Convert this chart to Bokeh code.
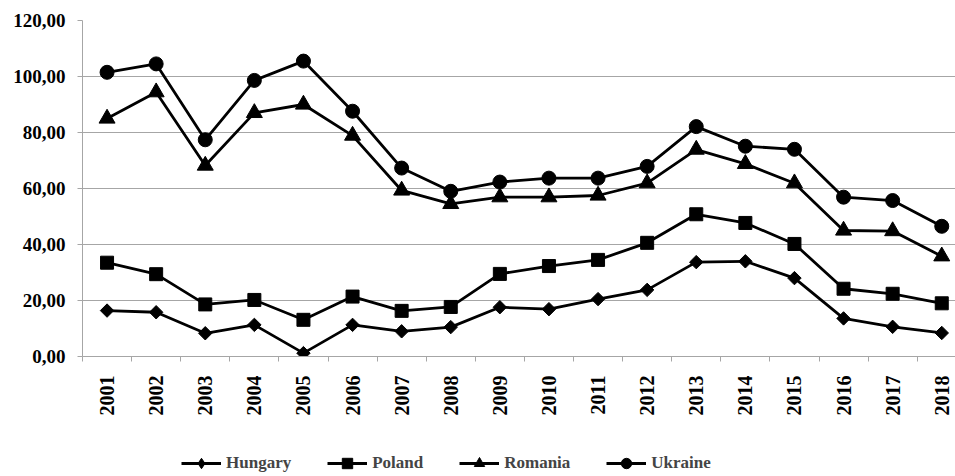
import math
from bokeh.plotting import figure
from bokeh.layouts import column
from bokeh.models import Range1d, FixedTicker, Legend, LegendItem
from bokeh.embed import file_html
from bokeh.resources import INLINE

years = list(range(2001, 2019))
hungary = [16.4, 15.8, 8.3, 11.3, 1.2, 11.3, 9.0, 10.5, 17.6, 16.9, 20.5, 23.8, 33.7, 34.0, 28.0, 13.6, 10.6, 8.4]
poland = [33.5, 29.4, 18.6, 20.2, 13.1, 21.4, 16.3, 17.7, 29.5, 32.3, 34.5, 40.6, 50.8, 47.7, 40.2, 24.2, 22.4, 19.0]
romania = [85.0, 94.4, 68.2, 87.0, 90.0, 78.9, 59.3, 54.5, 56.9, 56.9, 57.5, 61.9, 73.9, 68.8, 61.9, 45.0, 44.8, 35.8]
ukraine = [101.5, 104.5, 77.4, 98.6, 105.5, 87.6, 67.3, 59.0, 62.3, 63.7, 63.7, 67.9, 82.1, 75.1, 74.0, 56.9, 55.7, 46.5]
y_ticks = [0, 20, 40, 60, 80, 100, 120]
y_labels = ["0,00", "20,00", "40,00", "60,00", "80,00", "100,00", "120,00"]

FONT = "Liberation Serif"
GRID = "#a6a6a6"

p = figure(width=955, height=450, output_backend="svg", toolbar_location=None,
           x_range=Range1d(2000.5, 2018.28), y_range=Range1d(0, 120),
           min_border_left=82, min_border_right=0, min_border_top=20, min_border_bottom=94)
p.outline_line_color = None
p.background_fill_color = "white"

# x axis
p.xaxis.ticker = FixedTicker(ticks=years, minor_ticks=[y - 0.5 for y in years] + [2018.5])
p.xaxis.major_tick_out = 0
p.xaxis.major_tick_in = 0
p.xaxis.minor_tick_out = 5
p.xaxis.minor_tick_in = 0
p.xaxis.minor_tick_line_color = GRID
p.xaxis.axis_line_color = GRID
p.xaxis.major_label_orientation = math.pi / 2
p.xaxis.major_label_standoff = 14
p.xaxis.major_label_text_font = FONT
p.xaxis.major_label_text_font_style = "bold"
p.xaxis.major_label_text_font_size = "20px"
p.xaxis.major_label_text_color = "black"
p.xgrid.visible = False

# y axis
p.yaxis.ticker = FixedTicker(ticks=y_ticks, minor_ticks=[])
p.yaxis.major_label_overrides = {t: l for t, l in zip(y_ticks, y_labels)}
p.yaxis.major_tick_out = 5
p.yaxis.major_tick_in = 0
p.yaxis.major_tick_line_color = GRID
p.yaxis.axis_line_color = GRID
p.yaxis.major_label_standoff = 12
p.yaxis.major_label_text_font = FONT
p.yaxis.major_label_text_font_style = "bold"
p.yaxis.major_label_text_font_size = "19px"
p.yaxis.major_label_text_color = "black"
p.ygrid.ticker = FixedTicker(ticks=y_ticks)
p.ygrid.grid_line_color = GRID
p.ygrid.grid_line_width = 1

series = [
    ("Hungary", hungary, "square", 9.5, 0.785398, "diamond"),
    ("Poland", poland, "square", 13, 0.0, "square"),
    ("Romania", romania, "triangle", 16, 0.0, "triangle"),
    ("Ukraine", ukraine, "circle", 14, 0.0, "circle"),
]

# legend strip below the chart
lg = figure(width=955, height=26, output_backend="svg", toolbar_location=None,
            x_range=Range1d(0, 1), y_range=Range1d(0, 1),
            x_axis_type=None, y_axis_type=None,
            min_border_left=0, min_border_right=0, min_border_top=0, min_border_bottom=0)
lg.outline_line_color = None
lg.grid.visible = False

items = []
for name, vals, marker, size, ang, lmarker in series:
    p.line(years, vals, line_color="black", line_width=2.8)
    p.scatter(years, vals, marker=marker, size=size, angle=ang,
              fill_color="black", line_color="black")
    # same series in the legend strip (out of its visible range)
    lr = lg.line(years, vals, line_color="black", line_width=2.8)
    sr = lg.scatter(years, vals, marker=lmarker, size=size,
                    fill_color="black", line_color="black")
    items.append(LegendItem(label=name, renderers=[lr, sr]))

legend = Legend(items=items, orientation="horizontal", location=(99, 0),
                label_text_font=FONT, label_text_font_style="bold",
                label_text_font_size="17px", glyph_width=40, glyph_height=26,
                label_standoff=5, spacing=36, padding=0, margin=0,
                border_line_color=None, background_fill_alpha=0)
lg.add_layout(legend)

layout = column(p, lg, spacing=0)
open("out.html", "w").write(file_html(layout, INLINE))
